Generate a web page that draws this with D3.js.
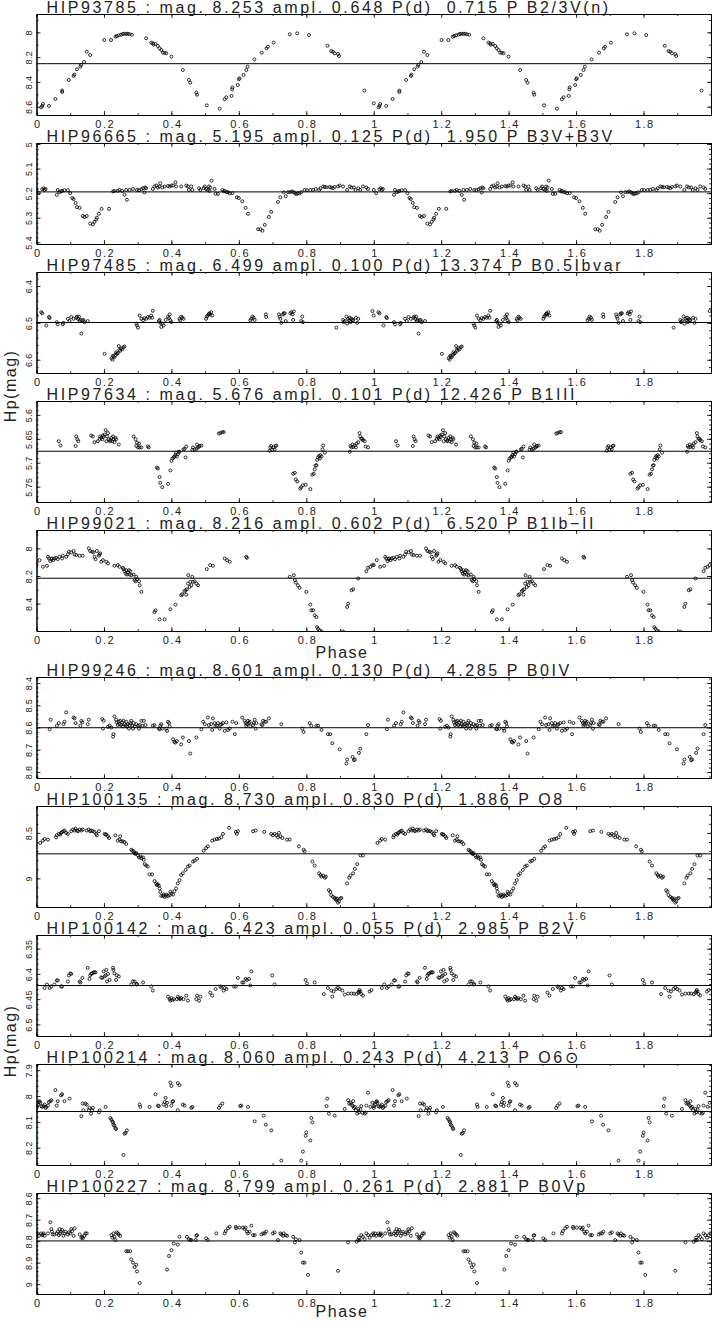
<!DOCTYPE html>
<html>
<head>
<meta charset="utf-8">
<script src="https://cdn.jsdelivr.net/npm/d3@7"></script>
<style>
  body { margin: 0; background: #fff; }
  text { font-family: "Liberation Sans", Arial, Helvetica, sans-serif; fill: #222; }
</style>
</head>
<body>
<div id="chart"></div>
<script>
// phase-folded Hipparcos light curves, [phase, Hp mag], one cycle each

var hip93785 = [[0.000,8.573],[0.014,8.605],[0.017,8.594],[0.019,8.578],[0.037,8.594],[0.056,8.538],[0.076,8.470],[0.076,8.481],[0.096,8.384],[0.110,8.352],[0.112,8.341],[0.120,8.298],[0.130,8.277],[0.132,8.263],[0.141,8.239],[0.149,8.156],[0.159,8.183],[0.201,8.062],[0.221,8.062],[0.234,8.035],[0.238,8.030],[0.244,8.024],[0.251,8.019],[0.256,8.013],[0.261,8.011],[0.266,8.013],[0.271,8.011],[0.276,8.016],[0.283,8.019],[0.325,8.048],[0.340,8.083],[0.345,8.089],[0.347,8.099],[0.353,8.094],[0.360,8.110],[0.365,8.129],[0.370,8.142],[0.375,8.164],[0.380,8.164],[0.385,8.169],[0.400,8.196],[0.434,8.304],[0.452,8.384],[0.456,8.406],[0.474,8.487],[0.476,8.503],[0.505,8.589],[0.543,8.616],[0.558,8.540],[0.563,8.524],[0.578,8.513],[0.580,8.460],[0.581,8.444],[0.597,8.425],[0.600,8.379],[0.602,8.371],[0.614,8.344],[0.622,8.304],[0.626,8.277],[0.646,8.218],[0.668,8.164],[0.682,8.129],[0.686,8.116],[0.703,8.083],[0.751,8.016],[0.773,8.008],[0.808,8.022],[0.863,8.108],[0.874,8.151],[0.879,8.156],[0.884,8.169],[0.894,8.175],[0.897,8.191],[0.972,8.470]];

var hip96665 = [[0.000,5.187],[0.007,5.200],[0.017,5.184],[0.021,5.180],[0.024,5.187],[0.027,5.183],[0.060,5.207],[0.063,5.187],[0.068,5.196],[0.073,5.193],[0.076,5.191],[0.083,5.188],[0.093,5.188],[0.100,5.200],[0.106,5.220],[0.110,5.224],[0.116,5.240],[0.120,5.257],[0.128,5.260],[0.137,5.293],[0.142,5.297],[0.149,5.293],[0.159,5.324],[0.167,5.327],[0.172,5.317],[0.177,5.307],[0.179,5.300],[0.185,5.284],[0.193,5.264],[0.215,5.264],[0.227,5.193],[0.231,5.191],[0.241,5.191],[0.246,5.187],[0.254,5.191],[0.261,5.207],[0.266,5.187],[0.268,5.227],[0.276,5.187],[0.286,5.183],[0.298,5.187],[0.304,5.188],[0.311,5.184],[0.316,5.180],[0.320,5.197],[0.322,5.177],[0.325,5.180],[0.345,5.183],[0.350,5.173],[0.355,5.169],[0.360,5.177],[0.365,5.173],[0.367,5.160],[0.373,5.177],[0.380,5.173],[0.390,5.171],[0.395,5.173],[0.400,5.169],[0.405,5.169],[0.412,5.156],[0.414,5.173],[0.429,5.173],[0.444,5.169],[0.449,5.173],[0.452,5.187],[0.459,5.173],[0.462,5.187],[0.482,5.180],[0.486,5.187],[0.496,5.180],[0.499,5.173],[0.503,5.183],[0.508,5.187],[0.511,5.173],[0.513,5.191],[0.515,5.177],[0.519,5.149],[0.528,5.183],[0.531,5.203],[0.538,5.203],[0.551,5.187],[0.555,5.193],[0.558,5.191],[0.563,5.196],[0.568,5.196],[0.573,5.201],[0.581,5.200],[0.594,5.217],[0.600,5.220],[0.610,5.233],[0.620,5.260],[0.627,5.284],[0.657,5.347],[0.664,5.347],[0.670,5.353],[0.677,5.329],[0.689,5.297],[0.696,5.276],[0.716,5.236],[0.723,5.217],[0.733,5.197],[0.739,5.213],[0.746,5.196],[0.753,5.196],[0.757,5.193],[0.763,5.196],[0.767,5.201],[0.771,5.204],[0.775,5.201],[0.780,5.201],[0.785,5.196],[0.795,5.187],[0.802,5.188],[0.812,5.187],[0.820,5.187],[0.828,5.183],[0.838,5.187],[0.842,5.180],[0.850,5.173],[0.855,5.175],[0.860,5.176],[0.869,5.175],[0.874,5.177],[0.879,5.180],[0.884,5.175],[0.894,5.173],[0.899,5.169],[0.909,5.173],[0.921,5.187],[0.929,5.173],[0.934,5.177],[0.941,5.177],[0.946,5.187],[0.954,5.180],[0.960,5.187],[0.968,5.173],[0.978,5.177],[0.983,5.183]];

var hip97485 = [[0.000,6.480],[0.014,6.471],[0.017,6.474],[0.029,6.507],[0.037,6.484],[0.039,6.487],[0.060,6.498],[0.063,6.504],[0.078,6.504],[0.080,6.500],[0.093,6.489],[0.098,6.495],[0.103,6.484],[0.110,6.489],[0.118,6.486],[0.120,6.483],[0.123,6.489],[0.126,6.483],[0.128,6.495],[0.130,6.492],[0.133,6.529],[0.136,6.493],[0.139,6.492],[0.142,6.498],[0.152,6.495],[0.202,6.584],[0.222,6.596],[0.225,6.600],[0.227,6.589],[0.228,6.591],[0.231,6.593],[0.234,6.587],[0.236,6.580],[0.238,6.584],[0.241,6.582],[0.244,6.563],[0.246,6.573],[0.248,6.576],[0.251,6.569],[0.254,6.572],[0.258,6.566],[0.261,6.564],[0.296,6.502],[0.298,6.507],[0.301,6.513],[0.306,6.480],[0.311,6.489],[0.316,6.493],[0.320,6.487],[0.325,6.489],[0.330,6.484],[0.335,6.486],[0.340,6.480],[0.343,6.486],[0.345,6.467],[0.363,6.495],[0.365,6.492],[0.367,6.500],[0.370,6.511],[0.373,6.502],[0.377,6.507],[0.383,6.492],[0.390,6.483],[0.393,6.487],[0.395,6.477],[0.397,6.493],[0.400,6.498],[0.424,6.489],[0.426,6.493],[0.429,6.483],[0.432,6.486],[0.436,6.489],[0.503,6.489],[0.505,6.483],[0.508,6.480],[0.511,6.476],[0.513,6.474],[0.515,6.477],[0.518,6.471],[0.521,6.480],[0.634,6.493],[0.637,6.489],[0.640,6.483],[0.644,6.486],[0.647,6.492],[0.680,6.477],[0.681,6.484],[0.719,6.477],[0.721,6.483],[0.723,6.489],[0.726,6.500],[0.731,6.477],[0.733,6.474],[0.736,6.474],[0.739,6.495],[0.753,6.474],[0.756,6.471],[0.759,6.477],[0.761,6.492],[0.763,6.469],[0.785,6.495],[0.788,6.483],[0.790,6.498],[0.889,6.513],[0.909,6.492],[0.911,6.498],[0.914,6.495],[0.919,6.483],[0.921,6.502],[0.924,6.489],[0.927,6.493],[0.929,6.486],[0.931,6.498],[0.934,6.489],[0.937,6.492],[0.939,6.493],[0.947,6.486],[0.951,6.500],[0.954,6.489],[0.996,6.468]];

var hip97634 = [[0.066,5.655],[0.071,5.664],[0.116,5.665],[0.118,5.645],[0.121,5.651],[0.124,5.655],[0.162,5.643],[0.167,5.645],[0.172,5.657],[0.182,5.655],[0.187,5.650],[0.189,5.645],[0.192,5.648],[0.195,5.651],[0.197,5.643],[0.199,5.646],[0.202,5.641],[0.205,5.632],[0.207,5.655],[0.209,5.645],[0.212,5.638],[0.214,5.651],[0.217,5.655],[0.219,5.653],[0.222,5.648],[0.225,5.655],[0.227,5.645],[0.228,5.651],[0.231,5.657],[0.234,5.648],[0.236,5.651],[0.244,5.662],[0.288,5.645],[0.294,5.651],[0.296,5.665],[0.298,5.658],[0.301,5.668],[0.304,5.660],[0.306,5.668],[0.311,5.668],[0.330,5.666],[0.333,5.668],[0.357,5.710],[0.360,5.712],[0.365,5.730],[0.367,5.742],[0.373,5.751],[0.390,5.744],[0.397,5.716],[0.400,5.696],[0.403,5.691],[0.407,5.689],[0.409,5.687],[0.412,5.684],[0.414,5.679],[0.416,5.687],[0.419,5.682],[0.422,5.677],[0.424,5.677],[0.436,5.672],[0.439,5.671],[0.442,5.689],[0.444,5.666],[0.462,5.673],[0.464,5.668],[0.469,5.672],[0.474,5.671],[0.476,5.662],[0.479,5.668],[0.482,5.666],[0.484,5.665],[0.489,5.664],[0.541,5.639],[0.545,5.638],[0.551,5.636],[0.555,5.636],[0.691,5.675],[0.693,5.668],[0.696,5.665],[0.699,5.673],[0.703,5.668],[0.706,5.672],[0.709,5.665],[0.711,5.664],[0.761,5.723],[0.766,5.721],[0.769,5.735],[0.773,5.739],[0.782,5.754],[0.785,5.751],[0.790,5.747],[0.798,5.746],[0.812,5.755],[0.818,5.725],[0.822,5.723],[0.825,5.714],[0.828,5.706],[0.830,5.705],[0.832,5.694],[0.835,5.689],[0.838,5.686],[0.840,5.691],[0.842,5.684],[0.845,5.687],[0.848,5.672],[0.850,5.664],[0.855,5.679],[0.929,5.677],[0.931,5.665],[0.934,5.668],[0.937,5.662],[0.939,5.667],[0.944,5.664],[0.947,5.668],[0.949,5.660],[0.954,5.657],[0.958,5.638],[0.960,5.645],[0.963,5.650],[0.966,5.650],[0.968,5.653],[0.973,5.655],[0.976,5.666],[0.983,5.668]];

var hip99021 = [[0.000,8.121],[0.009,8.085],[0.019,8.133],[0.031,8.126],[0.034,8.061],[0.037,8.073],[0.041,8.092],[0.044,8.078],[0.046,8.073],[0.050,8.085],[0.053,8.073],[0.058,8.068],[0.063,8.078],[0.068,8.061],[0.076,8.073],[0.078,8.053],[0.088,8.061],[0.093,8.044],[0.096,8.024],[0.103,8.029],[0.110,8.019],[0.113,8.044],[0.118,8.048],[0.128,8.053],[0.137,8.053],[0.155,8.000],[0.159,8.019],[0.165,8.024],[0.169,8.029],[0.172,8.061],[0.175,8.078],[0.179,8.019],[0.185,8.053],[0.187,8.044],[0.189,8.036],[0.192,8.097],[0.197,8.085],[0.207,8.097],[0.212,8.109],[0.231,8.126],[0.241,8.121],[0.246,8.133],[0.256,8.141],[0.258,8.150],[0.261,8.165],[0.264,8.182],[0.266,8.158],[0.268,8.189],[0.271,8.175],[0.274,8.158],[0.276,8.189],[0.278,8.165],[0.281,8.194],[0.288,8.189],[0.291,8.230],[0.294,8.238],[0.296,8.206],[0.298,8.223],[0.304,8.238],[0.306,8.267],[0.311,8.315],[0.350,8.461],[0.353,8.448],[0.365,8.514],[0.380,8.514],[0.397,8.441],[0.412,8.407],[0.429,8.339],[0.432,8.332],[0.439,8.310],[0.442,8.303],[0.444,8.335],[0.446,8.296],[0.449,8.255],[0.450,8.194],[0.454,8.279],[0.456,8.242],[0.459,8.267],[0.462,8.206],[0.464,8.242],[0.469,8.238],[0.474,8.255],[0.479,8.267],[0.505,8.150],[0.515,8.121],[0.523,8.126],[0.558,8.073],[0.565,8.085],[0.573,8.097],[0.622,8.061],[0.624,8.068],[0.751,8.206],[0.763,8.194],[0.766,8.230],[0.769,8.247],[0.775,8.267],[0.780,8.286],[0.800,8.315],[0.812,8.407],[0.815,8.448],[0.820,8.448],[0.825,8.485],[0.830,8.497],[0.832,8.570],[0.835,8.582],[0.840,8.594],[0.845,8.601],[0.909,8.601],[0.921,8.424],[0.924,8.400],[0.934,8.303],[0.939,8.296],[0.954,8.218],[0.978,8.165],[0.983,8.141],[0.990,8.133],[0.996,8.121]];

var hip99246 = [[0.039,8.608],[0.042,8.565],[0.060,8.592],[0.066,8.580],[0.080,8.585],[0.083,8.574],[0.088,8.532],[0.110,8.555],[0.113,8.559],[0.116,8.580],[0.130,8.592],[0.133,8.570],[0.136,8.577],[0.152,8.585],[0.155,8.565],[0.195,8.562],[0.197,8.605],[0.199,8.570],[0.212,8.597],[0.217,8.592],[0.222,8.600],[0.227,8.641],[0.228,8.630],[0.231,8.550],[0.236,8.565],[0.238,8.577],[0.241,8.589],[0.244,8.574],[0.246,8.585],[0.248,8.570],[0.251,8.589],[0.254,8.577],[0.256,8.595],[0.258,8.570],[0.261,8.585],[0.264,8.592],[0.266,8.574],[0.268,8.595],[0.271,8.585],[0.274,8.605],[0.276,8.589],[0.278,8.580],[0.281,8.570],[0.284,8.592],[0.286,8.605],[0.288,8.580],[0.291,8.595],[0.296,8.585],[0.301,8.592],[0.304,8.605],[0.306,8.589],[0.311,8.570],[0.314,8.592],[0.318,8.570],[0.323,8.589],[0.345,8.592],[0.350,8.589],[0.363,8.605],[0.365,8.608],[0.367,8.592],[0.370,8.585],[0.373,8.605],[0.385,8.605],[0.387,8.615],[0.390,8.574],[0.393,8.580],[0.395,8.595],[0.405,8.653],[0.409,8.665],[0.412,8.668],[0.416,8.661],[0.429,8.676],[0.434,8.645],[0.452,8.661],[0.456,8.717],[0.474,8.645],[0.489,8.608],[0.494,8.574],[0.499,8.585],[0.508,8.555],[0.511,8.589],[0.518,8.585],[0.521,8.611],[0.523,8.559],[0.528,8.580],[0.531,8.595],[0.535,8.592],[0.538,8.580],[0.543,8.605],[0.545,8.589],[0.548,8.585],[0.553,8.580],[0.558,8.615],[0.563,8.577],[0.568,8.611],[0.573,8.605],[0.581,8.574],[0.588,8.630],[0.592,8.580],[0.610,8.555],[0.617,8.570],[0.620,8.580],[0.622,8.592],[0.624,8.585],[0.627,8.570],[0.630,8.580],[0.632,8.574],[0.634,8.595],[0.642,8.589],[0.644,8.580],[0.647,8.565],[0.650,8.605],[0.652,8.580],[0.667,8.585],[0.670,8.589],[0.672,8.570],[0.677,8.574],[0.681,8.574],[0.689,8.559],[0.726,8.585],[0.788,8.605],[0.792,8.620],[0.810,8.580],[0.815,8.592],[0.830,8.592],[0.835,8.592],[0.845,8.611],[0.864,8.630],[0.871,8.630],[0.877,8.671],[0.899,8.698],[0.919,8.762],[0.921,8.744],[0.937,8.732],[0.941,8.747],[0.944,8.744],[0.956,8.714],[0.960,8.695],[0.978,8.630],[0.983,8.589]];

var hip100135 = [[0.011,8.611],[0.019,8.585],[0.024,8.567],[0.034,8.574],[0.058,8.548],[0.060,8.526],[0.066,8.511],[0.070,8.519],[0.073,8.500],[0.076,8.489],[0.080,8.481],[0.083,8.474],[0.088,8.500],[0.093,8.511],[0.103,8.481],[0.108,8.463],[0.113,8.474],[0.116,8.452],[0.120,8.474],[0.123,8.481],[0.128,8.463],[0.133,8.474],[0.137,8.463],[0.149,8.474],[0.155,8.463],[0.159,8.481],[0.162,8.474],[0.167,8.481],[0.172,8.489],[0.177,8.511],[0.179,8.526],[0.185,8.481],[0.202,8.511],[0.205,8.519],[0.207,8.519],[0.212,8.537],[0.215,8.556],[0.234,8.526],[0.241,8.585],[0.246,8.574],[0.248,8.537],[0.251,8.593],[0.256,8.593],[0.261,8.600],[0.266,8.622],[0.281,8.685],[0.284,8.696],[0.288,8.704],[0.291,8.722],[0.294,8.733],[0.296,8.722],[0.301,8.748],[0.304,8.770],[0.308,8.759],[0.311,8.778],[0.316,8.770],[0.318,8.796],[0.321,8.844],[0.325,8.859],[0.330,8.870],[0.335,8.956],[0.343,8.956],[0.350,9.030],[0.355,9.056],[0.357,9.074],[0.360,9.067],[0.363,9.081],[0.365,9.111],[0.367,9.148],[0.370,9.193],[0.375,9.193],[0.377,9.178],[0.380,9.204],[0.383,9.193],[0.385,9.178],[0.390,9.193],[0.395,9.185],[0.397,9.148],[0.400,9.167],[0.405,9.178],[0.409,9.141],[0.414,9.111],[0.419,9.056],[0.424,9.019],[0.429,8.963],[0.434,8.944],[0.442,8.907],[0.449,8.870],[0.454,8.859],[0.464,8.815],[0.469,8.807],[0.476,8.785],[0.496,8.696],[0.503,8.667],[0.508,8.648],[0.521,8.585],[0.528,8.574],[0.535,8.567],[0.541,8.563],[0.548,8.548],[0.553,8.511],[0.571,8.444],[0.591,8.489],[0.594,8.511],[0.597,8.481],[0.642,8.481],[0.650,8.474],[0.675,8.489],[0.696,8.511],[0.701,8.526],[0.706,8.511],[0.711,8.526],[0.716,8.548],[0.719,8.500],[0.723,8.537],[0.729,8.556],[0.743,8.574],[0.751,8.574],[0.778,8.648],[0.792,8.685],[0.795,8.704],[0.818,8.815],[0.825,8.859],[0.838,8.944],[0.842,8.963],[0.845,8.981],[0.850,8.970],[0.855,8.993],[0.858,8.981],[0.867,9.130],[0.871,9.148],[0.874,9.185],[0.879,9.204],[0.884,9.215],[0.887,9.230],[0.889,9.241],[0.891,9.222],[0.894,9.267],[0.897,9.252],[0.901,9.222],[0.904,9.215],[0.921,9.056],[0.927,8.993],[0.931,8.970],[0.939,8.944],[0.944,8.896],[0.951,8.844],[0.960,8.748],[0.968,8.748]];

var hip100142 = [[0.024,6.428],[0.031,6.421],[0.039,6.428],[0.044,6.425],[0.053,6.421],[0.060,6.413],[0.063,6.413],[0.073,6.425],[0.076,6.425],[0.093,6.415],[0.096,6.403],[0.100,6.399],[0.103,6.400],[0.128,6.415],[0.130,6.417],[0.136,6.408],[0.152,6.388],[0.157,6.410],[0.159,6.403],[0.162,6.400],[0.165,6.399],[0.169,6.397],[0.172,6.397],[0.175,6.397],[0.192,6.407],[0.195,6.408],[0.199,6.395],[0.202,6.405],[0.205,6.403],[0.207,6.392],[0.209,6.415],[0.212,6.400],[0.217,6.412],[0.227,6.388],[0.228,6.392],[0.231,6.399],[0.236,6.412],[0.238,6.403],[0.244,6.405],[0.281,6.421],[0.286,6.415],[0.291,6.415],[0.296,6.421],[0.298,6.420],[0.316,6.417],[0.340,6.425],[0.345,6.433],[0.390,6.445],[0.395,6.450],[0.397,6.453],[0.400,6.448],[0.403,6.452],[0.407,6.450],[0.416,6.450],[0.419,6.445],[0.422,6.448],[0.426,6.450],[0.429,6.448],[0.436,6.450],[0.444,6.443],[0.449,6.453],[0.474,6.450],[0.476,6.443],[0.482,6.453],[0.486,6.445],[0.515,6.437],[0.521,6.443],[0.531,6.430],[0.545,6.425],[0.548,6.427],[0.555,6.433],[0.558,6.428],[0.563,6.430],[0.585,6.425],[0.591,6.425],[0.597,6.408],[0.610,6.417],[0.614,6.417],[0.620,6.410],[0.624,6.412],[0.630,6.410],[0.634,6.423],[0.637,6.395],[0.699,6.403],[0.706,6.421],[0.798,6.412],[0.802,6.419],[0.825,6.417],[0.852,6.440],[0.864,6.428],[0.874,6.433],[0.877,6.445],[0.881,6.435],[0.889,6.430],[0.894,6.427],[0.899,6.430],[0.907,6.433],[0.914,6.441],[0.924,6.439],[0.934,6.439],[0.941,6.439],[0.949,6.440],[0.954,6.437],[0.956,6.435],[0.958,6.432],[0.960,6.435],[0.963,6.440],[0.968,6.443],[0.988,6.435],[0.993,6.432]];

var hip100214 = [[0.000,8.046],[0.001,8.039],[0.004,8.033],[0.007,8.023],[0.009,8.020],[0.011,8.026],[0.014,8.039],[0.017,8.042],[0.021,8.039],[0.024,8.033],[0.027,8.046],[0.029,8.042],[0.034,8.037],[0.037,8.023],[0.041,8.020],[0.044,8.016],[0.056,7.977],[0.060,8.037],[0.063,8.020],[0.073,7.997],[0.076,7.993],[0.083,8.020],[0.098,8.010],[0.133,8.078],[0.137,8.029],[0.139,8.055],[0.145,8.029],[0.149,8.033],[0.155,8.055],[0.157,8.046],[0.162,8.068],[0.165,8.055],[0.167,8.046],[0.185,8.063],[0.187,8.055],[0.205,8.042],[0.219,8.085],[0.222,8.091],[0.225,8.098],[0.227,8.102],[0.228,8.111],[0.231,8.115],[0.234,8.124],[0.236,8.128],[0.258,8.228],[0.261,8.146],[0.264,8.143],[0.268,8.133],[0.306,8.033],[0.308,8.042],[0.335,8.042],[0.353,7.993],[0.360,8.037],[0.363,8.039],[0.377,8.033],[0.380,8.023],[0.383,8.007],[0.385,8.039],[0.387,8.026],[0.397,7.948],[0.400,7.961],[0.400,8.037],[0.403,8.023],[0.405,8.020],[0.419,7.950],[0.424,7.958],[0.419,8.055],[0.434,8.033],[0.439,8.037],[0.459,8.046],[0.462,8.042],[0.541,8.046],[0.545,8.037],[0.551,8.029],[0.604,8.039],[0.607,8.037],[0.627,8.042],[0.647,8.098],[0.674,8.076],[0.680,8.111],[0.696,8.133],[0.726,8.250],[0.785,8.250],[0.790,8.215],[0.798,8.154],[0.800,8.141],[0.812,8.172],[0.815,8.085],[0.818,8.102],[0.860,8.039],[0.862,8.010],[0.867,8.068],[0.884,8.076],[0.914,8.050],[0.924,8.016],[0.927,8.029],[0.931,8.026],[0.934,8.033],[0.937,8.037],[0.939,8.020],[0.941,8.046],[0.944,8.042],[0.947,8.055],[0.951,8.068],[0.954,8.050],[0.956,8.063],[0.960,8.052],[0.963,8.039],[0.966,8.065],[0.973,8.068],[0.976,8.065],[0.978,8.037],[0.983,7.987],[0.990,8.042],[0.996,8.026]];

var hip100227 = [[0.000,8.772],[0.004,8.764],[0.007,8.775],[0.014,8.764],[0.017,8.772],[0.019,8.769],[0.021,8.764],[0.024,8.775],[0.034,8.764],[0.041,8.712],[0.044,8.744],[0.046,8.756],[0.048,8.769],[0.053,8.769],[0.060,8.764],[0.063,8.756],[0.066,8.772],[0.068,8.744],[0.070,8.764],[0.073,8.756],[0.076,8.748],[0.080,8.775],[0.083,8.764],[0.086,8.756],[0.093,8.769],[0.096,8.759],[0.100,8.764],[0.103,8.744],[0.106,8.753],[0.110,8.775],[0.113,8.740],[0.128,8.769],[0.133,8.784],[0.136,8.780],[0.137,8.787],[0.142,8.775],[0.145,8.764],[0.149,8.764],[0.222,8.772],[0.225,8.784],[0.228,8.764],[0.231,8.780],[0.234,8.795],[0.238,8.759],[0.241,8.764],[0.244,8.769],[0.248,8.775],[0.266,8.847],[0.271,8.847],[0.278,8.847],[0.281,8.885],[0.286,8.900],[0.291,8.921],[0.296,8.910],[0.298,8.941],[0.306,8.995],[0.387,8.932],[0.393,8.869],[0.400,8.842],[0.407,8.811],[0.419,8.816],[0.424,8.780],[0.446,8.780],[0.452,8.791],[0.456,8.795],[0.459,8.795],[0.472,8.795],[0.474,8.775],[0.476,8.772],[0.503,8.787],[0.508,8.795],[0.533,8.764],[0.558,8.764],[0.561,8.753],[0.568,8.740],[0.573,8.733],[0.591,8.733],[0.592,8.740],[0.602,8.737],[0.612,8.737],[0.617,8.744],[0.620,8.737],[0.624,8.756],[0.627,8.764],[0.632,8.756],[0.637,8.728],[0.642,8.772],[0.647,8.772],[0.667,8.769],[0.672,8.764],[0.677,8.764],[0.681,8.756],[0.701,8.764],[0.706,8.759],[0.716,8.795],[0.723,8.764],[0.726,8.769],[0.731,8.775],[0.733,8.764],[0.739,8.772],[0.743,8.775],[0.761,8.780],[0.766,8.806],[0.769,8.791],[0.780,8.795],[0.785,8.853],[0.790,8.900],[0.795,8.900],[0.805,8.957],[0.894,8.938],[0.924,8.806],[0.949,8.803],[0.954,8.795],[0.956,8.784],[0.958,8.795],[0.963,8.772],[0.968,8.780],[0.973,8.791],[0.978,8.764],[0.983,8.772],[0.988,8.784],[0.993,8.772],[0.998,8.764]];

// header values per star
var hipIds   = ["93785", "96665", "97485", "97634", "99021", "99246", "100135", "100142", "100214", "100227"];
var meanMag  = [8.253, 5.195, 6.499, 5.676, 8.216, 8.601, 8.730, 6.423, 8.060, 8.799];
var ampl     = [0.648, 0.125, 0.100, 0.101, 0.602, 0.130, 0.830, 0.055, 0.243, 0.261];
var periods  = [0.715, 1.950, 13.374, 12.426, 6.520, 4.285, 1.886, 2.985, 4.213, 2.881];
var spTypes  = ["B2/3V(n)", "B3V+B3V", "B0.5Ibvar", "B1III", "B1Ib\u2212II", "B0IV", "O8", "B2V", "O6\u2299", "B0Vp"];
var curves   = [hip93785, hip96665, hip97485, hip97634, hip99021, hip99246, hip100135, hip100142, hip100214, hip100227];

// y ranges (bright at top) and tick steps
var magTop    = [7.852, 4.996, 6.362, 5.571, 7.867, 8.373, 8.204, 6.323, 7.876, 8.576];
var magBottom = [8.667, 5.407, 6.636, 5.782, 8.598, 8.827, 9.315, 6.523, 8.267, 9.046];
var yMajor    = [0.2, 0.1, 0.1, 0.05, 0.2, 0.1, 0.5, 0.05, 0.1, 0.1];
var yMinor    = [0.1, 0.02, 0.02, 0.01, 0.1, 0.02, 0.1, 0.01, 0.02, 0.02];

var W = 713, H = 1321;
var panelH = 101;

var svg = d3.select("#chart")
  .append("svg")
  .attr("width", W)
  .attr("height", H);

var x = d3.scaleLinear().domain([0, 2]).range([36.5, 711]);

function steps(lo, hi, step) {
  var a = Math.ceil(lo / step - 1e-6), b = Math.floor(hi / step + 1e-6);
  return d3.range(a, b + 1).map(function(k) { return +(k * step).toFixed(4); });
}
var fmt = d3.format("~g");
var xMajor = steps(0, 1.9, 0.2);
var xMinor = steps(0, 2, 0.1);

function styleAxis(g) {
  g.attr("font-size", null).attr("font-family", null);
  g.select(".domain").attr("stroke", "#000").attr("stroke-width", 1);
  g.selectAll(".tick line").attr("stroke", "#000").attr("stroke-width", 0.8);
}

curves.forEach(function(data, i) {
  var top = 14 + i * 129 + (i >= 5 ? 18 : 0);
  var bottom = top + panelH;
  var lo = Math.min(magTop[i], magBottom[i]), hi = Math.max(magTop[i], magBottom[i]);

  var y = d3.scaleLinear().domain([magTop[i], magBottom[i]]).range([top, bottom]);
  var g = svg.append("g").attr("class", "panel");

  var clipId = "clip" + i;
  svg.append("clipPath").attr("id", clipId)
    .append("rect")
    .attr("x", x(0)).attr("y", top)
    .attr("width", x(2) - x(0)).attr("height", panelH);

  // minor ticks all round
  g.append("g").attr("transform", "translate(0," + bottom + ")")
    .call(d3.axisBottom(x).tickValues(xMinor).tickSizeInner(-2).tickSizeOuter(0).tickFormat(""))
    .call(styleAxis);
  g.append("g").attr("transform", "translate(0," + top + ")")
    .call(d3.axisTop(x).tickValues(xMinor).tickSizeInner(-2).tickSizeOuter(0).tickFormat(""))
    .call(styleAxis);
  g.append("g").attr("transform", "translate(" + x(0) + ",0)")
    .call(d3.axisLeft(y).tickValues(steps(lo, hi, yMinor[i])).tickSizeInner(-2).tickSizeOuter(0).tickFormat(""))
    .call(styleAxis);
  g.append("g").attr("transform", "translate(" + x(2) + ",0)")
    .call(d3.axisRight(y).tickValues(steps(lo, hi, yMinor[i])).tickSizeInner(-2).tickSizeOuter(0).tickFormat(""))
    .call(styleAxis);

  // major ticks + labels
  var xb = g.append("g").attr("transform", "translate(0," + bottom + ")")
    .call(d3.axisBottom(x).tickValues(xMajor).tickSizeInner(-4).tickSizeOuter(0).tickPadding(5).tickFormat(fmt))
    .call(styleAxis);
  xb.selectAll("text")
    .attr("font-size", 11)
    .attr("letter-spacing", "1.5px")
    .attr("dx", "0.07em");

  g.append("g").attr("transform", "translate(0," + top + ")")
    .call(d3.axisTop(x).tickValues(xMajor).tickSizeInner(-4).tickSizeOuter(0).tickFormat(""))
    .call(styleAxis);

  var yl = g.append("g").attr("transform", "translate(" + x(0) + ",0)")
    .call(d3.axisLeft(y).tickValues(steps(lo, hi, yMajor[i])).tickSizeInner(-4).tickSizeOuter(0).tickFormat(fmt))
    .call(styleAxis);
  yl.selectAll("text")
    .attr("x", 0).attr("dy", null)
    .attr("text-anchor", "middle")
    .attr("font-size", 9)
    .attr("letter-spacing", "0.4px")
    .attr("transform", "translate(-4.5,0) rotate(-90)");

  g.append("g").attr("transform", "translate(" + x(2) + ",0)")
    .call(d3.axisRight(y).tickValues(steps(lo, hi, yMajor[i])).tickSizeInner(-4).tickSizeOuter(0).tickFormat(""))
    .call(styleAxis);

  // mean magnitude line
  g.append("line")
    .attr("x1", x(0)).attr("x2", x(2))
    .attr("y1", y(meanMag[i])).attr("y2", y(meanMag[i]))
    .attr("stroke", "#000")
    .attr("stroke-width", 1);

  // two cycles of the folded curve
  var pts = data.map(function(d) { return [d[0], d[1]]; })
    .concat(data.map(function(d) { return [d[0] + 1, d[1]]; }));

  g.append("g")
    .attr("clip-path", "url(#" + clipId + ")")
    .selectAll("circle")
    .data(pts)
    .enter().append("circle")
      .attr("cx", function(d) { return x(d[0]); })
      .attr("cy", function(d) { return y(d[1]); })
      .attr("r", 1.5)
      .attr("fill", "none")
      .attr("stroke", "#000")
      .attr("stroke-width", 0.8);

  // header line
  var title = "HIP" + hipIds[i] + " : mag. " + meanMag[i].toFixed(3) +
    " ampl. " + ampl[i].toFixed(3) +
    " P(d) " + periods[i].toFixed(3).padStart(6, " ") +
    " P " + spTypes[i];
  g.append("text")
    .attr("x", 46.5)
    .attr("y", top - 1.5)
    .attr("font-size", 16)
    .attr("letter-spacing", "2.6px")
    .style("white-space", "pre")
    .text(title);
});

// axis titles
[658, 1316.5].forEach(function(yy) {
  svg.append("text")
    .attr("x", 342).attr("y", yy)
    .attr("text-anchor", "middle")
    .attr("font-size", 16)
    .attr("letter-spacing", "1.5px")
    .text("Phase");
});
[386, 1041].forEach(function(yy) {
  svg.append("text")
    .attr("transform", "translate(15.5," + yy + ") rotate(-90)")
    .attr("text-anchor", "middle")
    .attr("font-size", 16)
    .attr("letter-spacing", "1.5px")
    .text("Hp(mag)");
});
</script>
</body>
</html>
